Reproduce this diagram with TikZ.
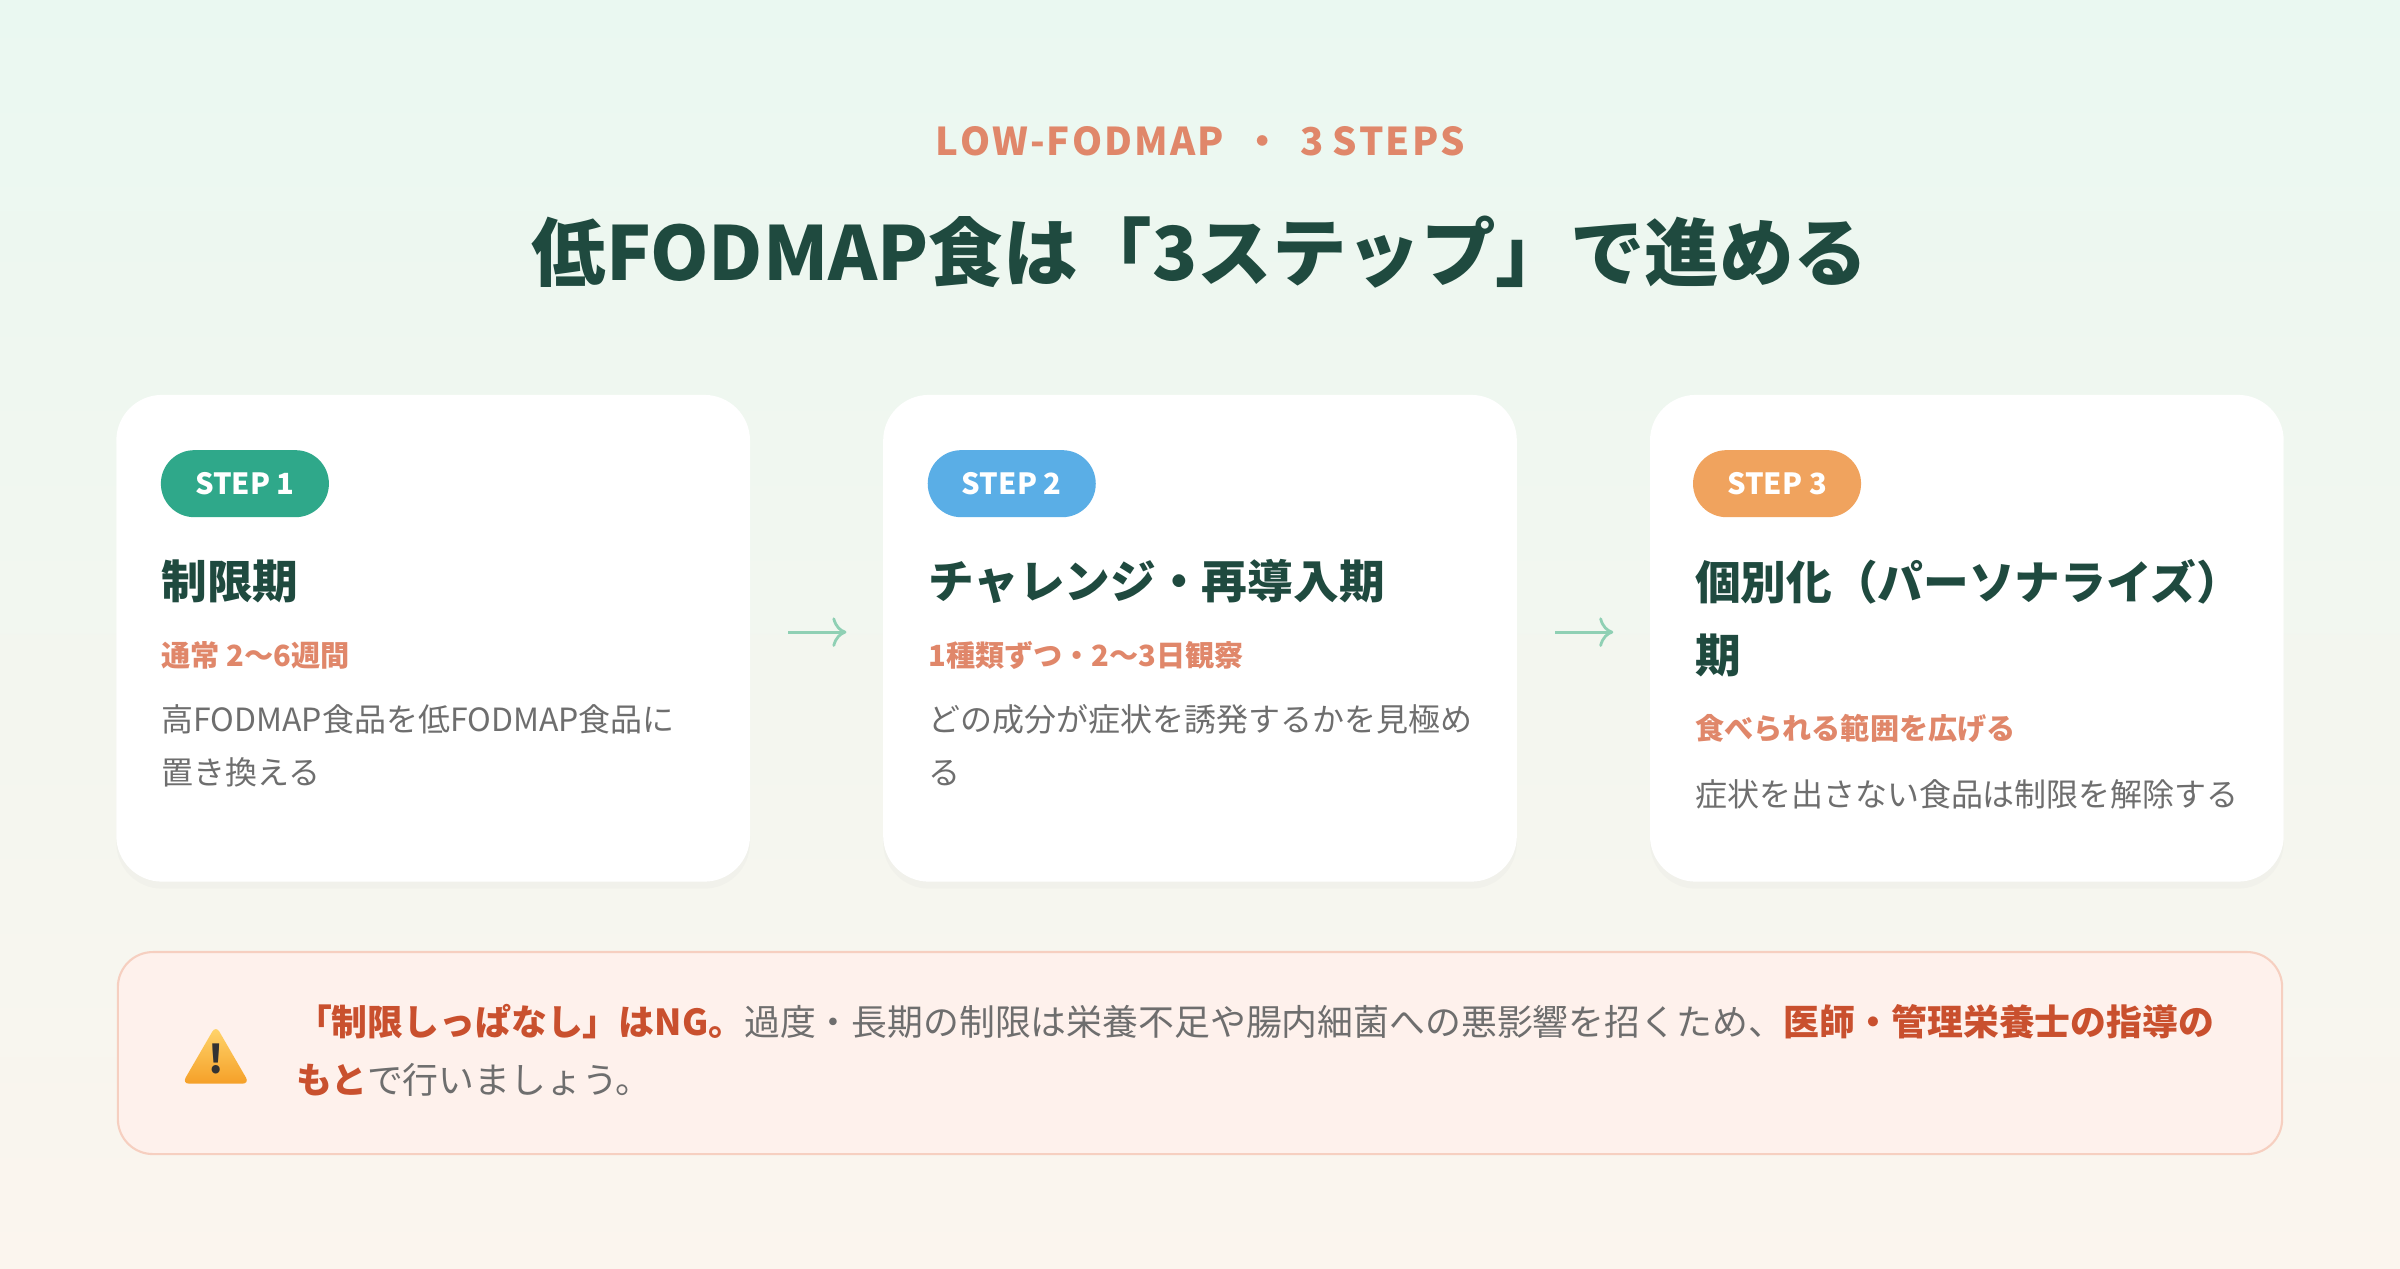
\documentclass[tikz,border=0pt]{standalone}
\usepackage{fontspec}
\setmainfont{Noto Sans CJK JP}
\usetikzlibrary{positioning,shadows,arrows.meta}
\definecolor{ink}{HTML}{1F4A3F}
\definecolor{salmon}{HTML}{E0876A}
\definecolor{warnred}{HTML}{C9502E}
\definecolor{bodygray}{HTML}{6E6E6E}
\definecolor{greenstep}{HTML}{2FA88A}
\definecolor{bluestep}{HTML}{5AAEE6}
\definecolor{orangestep}{HTML}{F0A35E}
\definecolor{arrowgreen}{HTML}{8FD0B4}
\definecolor{warnfill}{HTML}{FEF1EC}
\definecolor{warnline}{HTML}{F6CFC0}
\tikzset{
  card/.style={fill=white, rounded corners=13pt, drop shadow={opacity=0.035, shadow xshift=0pt, shadow yshift=-2pt}},
  pill/.style={fill=#1, text=white, rounded corners=9.5pt, minimum width=1.68cm, minimum height=0.67cm, font=\bfseries\fontsize{8.3}{10}\selectfont, inner sep=0pt},
  heading/.style={anchor=west, text=ink, font=\bfseries\fontsize{13}{16}\selectfont, inner sep=0pt},
  period/.style={anchor=west, text=salmon, font=\bfseries\fontsize{8.3}{10}\selectfont, inner sep=0pt},
  body/.style={anchor=north west, text=bodygray, font=\fontsize{9.1}{15}\selectfont, align=left, inner sep=0pt},
  step arrow/.style={arrowgreen, line width=0.8pt, -{To[length=4pt]}},
}
\begin{document}
\begin{tikzpicture}[x=0.015306cm, y=-0.015306cm]
  % background
  \shade[top color={rgb,255:red,234;green,248;blue,241}, bottom color={rgb,255:red,251;green,245;blue,238}] (0,0) rectangle (1568,829);
  \useasboundingbox (0,0) rectangle (1568,829);
  % titles
  \node[text=salmon, font=\bfseries\fontsize{10.9}{13}\selectfont] (kicker) at (784,92) {L\kern.6pt O\kern.6pt W\kern.6pt -\kern.6pt F\kern.6pt O\kern.6pt D\kern.6pt M\kern.6pt A\kern.6pt P\enspace・\enspace 3 S\kern.6pt T\kern.6pt E\kern.6pt P\kern.6pt S};
  \node[text=ink, font=\bfseries\fontsize{21.2}{26}\selectfont] (title) at (784,165) {低FODMAP食は「3ステップ」で進める};
  % cards
  \path[card] (76,258) rectangle (490,576);
  \path[card] (577,258) rectangle (991,576);
  \path[card] (1078,258) rectangle (1492,576);
  % step 1
  \node[pill=greenstep] (pill1) at (160,316) {STEP 1};
  \node[heading] (head1) at (105,380) {制限期};
  \node[period] (per1) at (105,428) {通常 2〜6週間};
  \node[body] (body1) at (105,460) {高FODMAP食品を低FODMAP食品に\\置き換える};
  % step 2
  \node[pill=bluestep] (pill2) at (661,316) {STEP 2};
  \node[heading] (head2) at (606,380) {チャレンジ・再導入期};
  \node[period] (per2) at (606,428) {1種類ずつ・2〜3日観察};
  \node[body] (body2) at (606,460) {どの成分が症状を誘発するかを見極め\\る};
  % step 3
  \node[pill=orangestep] (pill3) at (1161,316) {STEP 3};
  \node[heading] (head3) at (1107,380) {個別化（パーソナライズ）};
  \node[heading] (head3b) at (1107,428) {期};
  \node[period] (per3) at (1107,476) {食べられる範囲を広げる};
  \node[body] (body3) at (1107,509) {症状を出さない食品は制限を解除する};
  % arrows
  \coordinate (a1s) at (515,413); \coordinate (a1e) at (553,413);
  \coordinate (a2s) at (1016,413); \coordinate (a2e) at (1054,413);
  \draw[step arrow] (a1s) -- (a1e);
  \draw[step arrow] (a2s) -- (a2e);
  % warning
  \draw[fill=warnfill, draw=warnline, line width=0.6pt, rounded corners=10pt] (77,622) rectangle (1491,754);
  \shade[top color={rgb,255:red,255;green,214;blue,110}, bottom color={rgb,255:red,245;green,160;blue,40}, rounded corners=2pt] (141,670) -- (163,708) -- (119,708) -- cycle;
  \node[text=black!80, font=\bfseries\fontsize{11}{12}\selectfont, inner sep=0pt] (bang) at (141,692) {!};
  \node[anchor=west, text=bodygray, font=\fontsize{10.2}{16.5}\selectfont, align=left, inner sep=0pt] (warn) at (193,686)
    {{\color{warnred}\bfseries 「制限しっぱなし」はNG。}過度・長期の制限は栄養不足や腸内細菌への悪影響を招くため、{\color{warnred}\bfseries 医師・管理栄養士の指導の}\\{\color{warnred}\bfseries もと}で行いましょう。};
\end{tikzpicture}
\end{document}
